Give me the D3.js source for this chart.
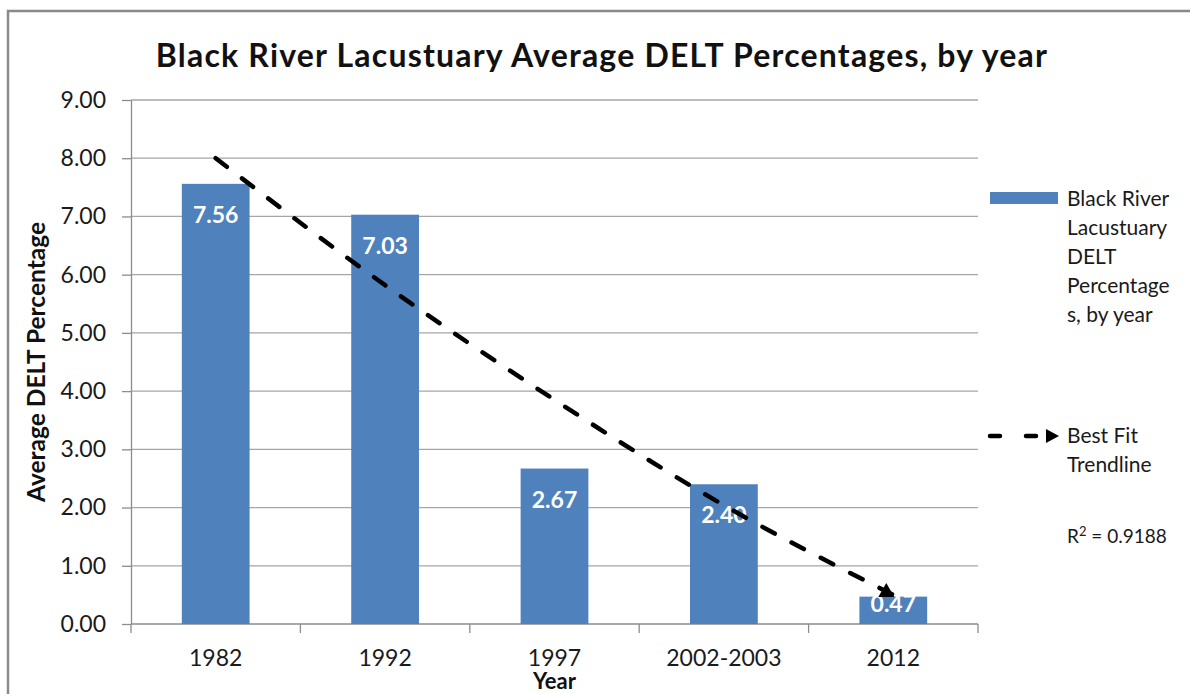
<!DOCTYPE html>
<html>
<head>
<meta charset="utf-8">
<script src="https://cdn.jsdelivr.net/npm/d3@7"></script>
<style>
  body { margin: 0; background: #fff; }
  text { font-family: Lato, "Open Sans", sans-serif; }
</style>
</head>
<body>
<script>
// chart values
const years = ["1982", "1992", "1997", "2002-2003", "2012"];
const delt = [7.56, 7.03, 2.67, 2.40, 0.47];
const trend = [8.0, 5.82, 3.85, 2.04, 0.5];   // hand drawn best-fit line
const yTicks = [0, 1, 2, 3, 4, 5, 6, 7, 8, 9];
const seriesName = ["Black River", "Lacustuary", "DELT", "Percentage", "s, by year"];
const trendName = ["Best Fit", "Trendline"];
const rSquared = "0.9188";

const w = 1190;
const h = 694;
const plotLeft = 131, plotRight = 978, plotTop = 100, plotBottom = 624;
const barColor = "#4F81BD";

const svg = d3.select("body")
    .append("svg")
    .attr("width", w)
    .attr("height", h);

// outer chart border (runs off right and bottom)
svg.append("rect")
    .attr("x", 8).attr("y", 11)
    .attr("width", 1200).attr("height", 720)
    .attr("fill", "#fff")
    .attr("stroke", "#8a8a8a")
    .attr("stroke-width", 2.5);

// title
svg.append("text")
    .attr("x", 602).attr("y", 67)
    .attr("text-anchor", "middle")
    .style("font-weight", "bold")
    .style("font-size", "32px")
    .style("letter-spacing", "1.2px")
    .attr("fill", "#111")
    .text("Black River Lacustuary Average DELT Percentages, by year");

const x = d3.scaleBand()
    .domain(years)
    .range([plotLeft, plotRight])
    .paddingInner(0.6)
    .paddingOuter(0.3);

const y = d3.scaleLinear()
    .domain([0, 9])
    .range([plotBottom, plotTop]);

// gridlines
svg.append("g")
    .selectAll("line")
    .data(yTicks.slice(1))
    .enter()
    .append("line")
    .attr("x1", plotLeft).attr("x2", plotRight)
    .attr("y1", d => y(d)).attr("y2", d => y(d))
    .attr("stroke", "#a6a6a6")
    .attr("stroke-width", 1.3);

// y axis
const yAxis = d3.axisLeft(y)
    .tickValues(yTicks)
    .tickFormat(d3.format(".2f"))
    .tickSizeInner(9)
    .tickSizeOuter(0)
    .tickPadding(16);
const gy = svg.append("g")
    .attr("transform", "translate(" + plotLeft + ",0)")
    .call(yAxis);
gy.select(".domain").attr("stroke", "#8c8c8c").attr("stroke-width", 1.3);
gy.selectAll(".tick line").attr("stroke", "#8c8c8c").attr("stroke-width", 1.3);
gy.selectAll("text")
    .style("font-size", "23px")
    .style("font-family", "Lato, sans-serif")
    .attr("fill", "#1a1a1a");

// x axis: ticks sit between categories
const bandEdge = d3.scalePoint()
    .domain(d3.range(years.length + 1))
    .range([plotLeft, plotRight]);
const gx = svg.append("g")
    .attr("transform", "translate(0," + plotBottom + ")");
gx.append("line")
    .attr("x1", plotLeft).attr("x2", plotRight)
    .attr("stroke", "#8c8c8c").attr("stroke-width", 1.3);
gx.selectAll(".edge")
    .data(bandEdge.domain())
    .enter()
    .append("line")
    .attr("class", "edge")
    .attr("x1", d => bandEdge(d)).attr("x2", d => bandEdge(d))
    .attr("y1", 0).attr("y2", 9)
    .attr("stroke", "#8c8c8c").attr("stroke-width", 1.3);
gx.selectAll(".cat")
    .data(years)
    .enter()
    .append("text")
    .attr("class", "cat")
    .attr("x", d => x(d) + x.bandwidth() / 2)
    .attr("y", 42)
    .attr("text-anchor", "middle")
    .style("font-size", "23px")
    .attr("fill", "#1a1a1a")
    .text(d => d);

// bars
svg.selectAll(".bar")
    .data(delt)
    .enter()
    .append("rect")
    .attr("class", "bar")
    .attr("x", (d, i) => x(years[i]))
    .attr("y", d => y(d))
    .attr("width", x.bandwidth())
    .attr("height", d => plotBottom - y(d))
    .attr("fill", barColor);

// value labels, inside end
svg.selectAll(".lbl")
    .data(delt)
    .enter()
    .append("text")
    .attr("class", "lbl")
    .attr("x", (d, i) => x(years[i]) + x.bandwidth() / 2)
    .attr("y", d => Math.min(y(d) + 39, plotBottom - 12))
    .attr("text-anchor", "middle")
    .style("font-size", "23px")
    .style("font-weight", "bold")
    .attr("fill", "#fff")
    .text(d => d.toFixed(2));

// trend line
const trendLine = d3.line()
    .x((d, i) => x(years[i]) + x.bandwidth() / 2)
    .y(d => y(d))
    .curve(d3.curveMonotoneX);
svg.append("path")
    .datum(trend)
    .attr("d", trendLine)
    .attr("fill", "none")
    .attr("stroke", "#000")
    .attr("stroke-width", 4.5)
    .attr("stroke-linecap", "round")
    .attr("stroke-dasharray", "14,19");

// arrow head at the end of the trend line
const ex = x(years[years.length - 1]) + x.bandwidth() / 2 - 7;
const ey = y(trend[trend.length - 1]);
svg.append("path")
    .attr("d", "M" + ex + "," + (ey - 12) + "L" + (ex + 8) + "," + (ey + 2) + "L" + (ex - 8) + "," + (ey + 2) + "Z")
    .attr("fill", "#000");

// axis titles
svg.append("text")
    .attr("transform", "translate(45," + ((plotTop + plotBottom) / 2) + ") rotate(-90)")
    .attr("text-anchor", "middle")
    .style("font-size", "24.5px")
    .style("font-weight", "bold")
    .attr("fill", "#111")
    .text("Average DELT Percentage");

svg.append("text")
    .attr("x", (plotLeft + plotRight) / 2)
    .attr("y", 689)
    .attr("text-anchor", "middle")
    .style("font-size", "22px")
    .style("font-weight", "bold")
    .attr("fill", "#111")
    .text("Year");

// legend
const lg = svg.append("g");
lg.append("rect")
    .attr("x", 990).attr("y", 192)
    .attr("width", 68).attr("height", 12)
    .attr("fill", barColor);
lg.selectAll(".s1")
    .data(seriesName)
    .enter()
    .append("text")
    .attr("class", "s1")
    .attr("x", 1067)
    .attr("y", (d, i) => 206 + i * 29)
    .style("font-size", "21px")
    .attr("fill", "#1a1a1a")
    .text(d => d);

lg.append("line")
    .attr("x1", 990).attr("x2", 1048)
    .attr("y1", 436).attr("y2", 436)
    .attr("stroke", "#000").attr("stroke-width", 4.5)
    .attr("stroke-linecap", "round")
    .attr("stroke-dasharray", "10,26");
lg.append("path")
    .attr("d", "M1046,429L1059,436L1046,443Z")
    .attr("fill", "#000");
lg.selectAll(".s2")
    .data(trendName)
    .enter()
    .append("text")
    .attr("class", "s2")
    .attr("x", 1067)
    .attr("y", (d, i) => 443 + i * 29)
    .style("font-size", "21px")
    .attr("fill", "#1a1a1a")
    .text(d => d);

const r2 = lg.append("text")
    .attr("x", 1067).attr("y", 543)
    .style("font-size", "19px")
    .attr("fill", "#1a1a1a");
r2.append("tspan").text("R");
r2.append("tspan").attr("dy", -7).style("font-size", "13px").text("2");
r2.append("tspan").attr("dy", 7).text(" = " + rSquared);
</script>
</body>
</html>
